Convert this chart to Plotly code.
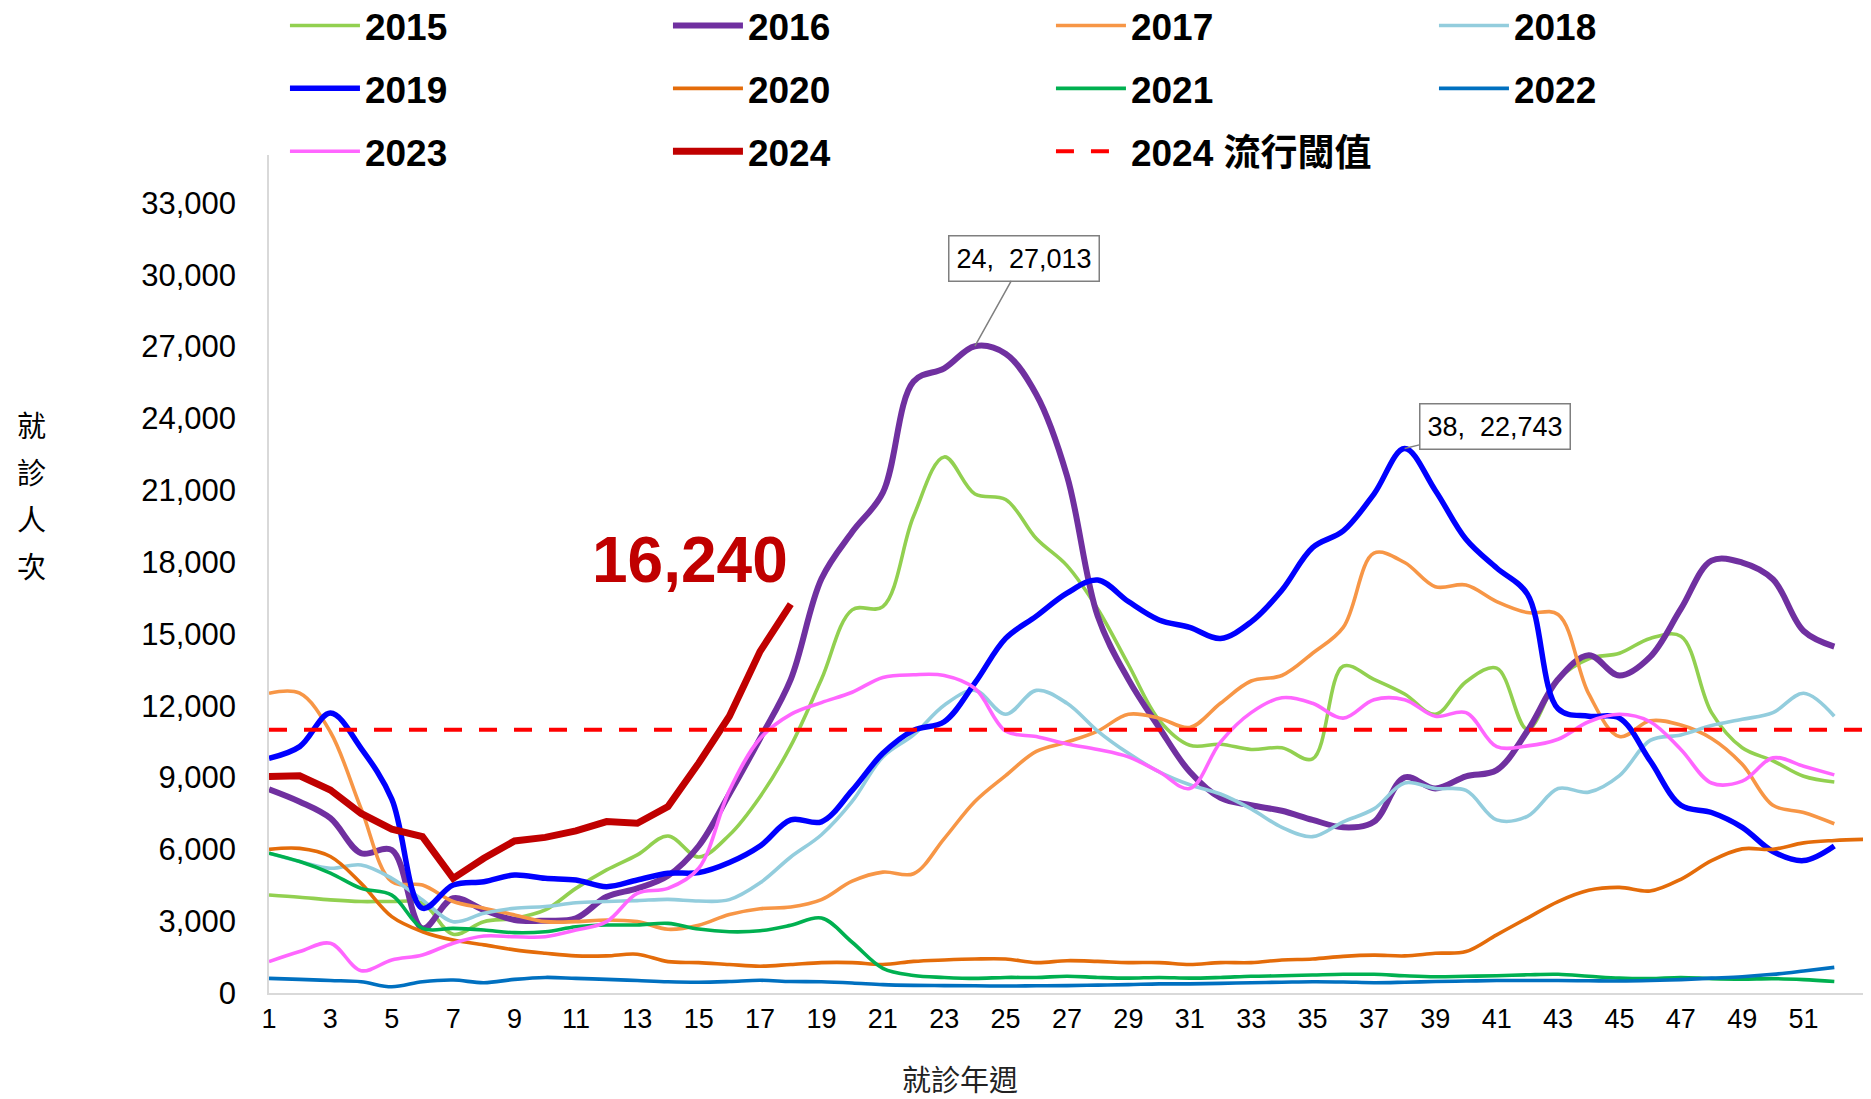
import plotly.graph_objects as go

# 週別就診人次
weeks = list(range(1, 53))
weeks_2020 = list(range(1, 54))
weeks_2024 = list(range(1, 19))

y2015 = [4090, 4000, 3890, 3820, 3820, 3750, 2450, 2980, 3120, 3470,
         4370, 5140, 5770, 6560, 5680, 6600, 8200, 10320, 13100, 16000,
         16140, 19910, 22390, 20840, 20610, 18980, 17850, 16040, 13720, 11400,
         10350, 10390, 10170, 10240, 9780, 13650, 13100, 12490, 11640, 13000,
         13570, 11010, 13100, 13960, 14190, 14810, 14900, 11710, 10240, 9700,
         9050, 8810]
y2016 = [8510, 7990, 7300, 5840, 5970, 2700, 3960, 3470, 3050, 3020,
         3120, 4020, 4370, 4900, 6140, 8310, 10630, 13100, 17300, 19250,
         20900, 25540, 26090, 27013, 26700, 25000, 21600, 15740, 13100, 11090,
         9240, 8150, 7840, 7610, 7230, 6920, 7150, 9010, 8540, 9050,
         9310, 10940, 13100, 14110, 13260, 14040, 16040, 18060, 17980, 17280,
         15120, 14470]
y2017 = [12520, 12520, 10900, 7700, 4650, 4510, 3820, 3540, 3260, 2980,
         2980, 3050, 2980, 2660, 2830, 3280, 3520, 3590, 3900, 4670,
         5050, 4980, 6450, 8000, 9080, 10090, 10480, 10940, 11640, 11480,
         11090, 12100, 13030, 13260, 14190, 15270, 18370, 17980, 16970, 17040,
         16350, 15890, 15810, 12490, 10710, 11370, 11190, 10630, 9550, 7840,
         7540, 7070]
y2018 = [5840, 5490, 5210, 5350, 4790, 3890, 2980, 3330, 3540, 3610,
         3770, 3820, 3860, 3910, 3840, 3900, 4600, 5680, 6610, 8000,
         9860, 10780, 12020, 12640, 11640, 12640, 12100, 10940, 10010, 9240,
         8700, 8310, 7690, 6920, 6530, 7150, 7690, 8770, 8540, 8460,
         7230, 7380, 8540, 8390, 9080, 10550, 10780, 11170, 11430, 11710,
         12520, 11560]
y2019 = [9800, 10290, 11690, 10220, 8100, 3540, 4510, 4650, 4930, 4790,
         4720, 4440, 4720, 5000, 5030, 5450, 6140, 7230, 7150, 8460,
         10010, 10970, 11330, 12950, 14810, 15740, 16700, 17250, 16350, 15580,
         15270, 14810, 15500, 16820, 18600, 19300, 20840, 22743, 20990, 18950,
         17750, 16660, 11870, 11560, 11480, 9700, 7840, 7540, 6920, 5910,
         5530, 6140]
y2020 = [6000, 6040, 5700, 4580, 3190, 2560, 2210, 2010, 1800, 1660,
         1550, 1550, 1620, 1310, 1270, 1190, 1120, 1190, 1270, 1270,
         1190, 1320, 1380, 1420, 1420, 1270, 1350, 1320, 1270, 1270,
         1190, 1270, 1270, 1380, 1420, 1530, 1580, 1550, 1660, 1730,
         2430, 3130, 3820, 4290, 4410, 4260, 4750, 5530, 6020, 6000,
         6270, 6370, 6420]
y2021 = [5840, 5490, 5010, 4370, 4090, 2700, 2700, 2630, 2520, 2560,
         2770, 2840, 2840, 2910, 2670, 2560, 2600, 2830, 3130, 2120,
         1030, 730, 650, 610, 650, 650, 700, 650, 620, 650,
         620, 650, 700, 720, 750, 780, 780, 720, 680, 700,
         720, 760, 780, 700, 620, 600, 650, 600, 580, 600,
         560, 480]
y2022 = [610, 570, 520, 470, 260, 470, 540, 430, 570, 650,
         610, 570, 520, 470, 450, 480, 530, 480, 470, 420,
         350, 320, 310, 300, 290, 300, 310, 330, 350, 380,
         380, 400, 430, 450, 470, 460, 430, 450, 480, 500,
         520, 520, 520, 510, 500, 520, 560, 620, 680, 780,
         920, 1070]
y2023 = [1310, 1730, 2080, 930, 1380, 1590, 2080, 2380, 2350, 2350,
         2630, 2980, 4160, 4370, 5210, 8460, 10630, 11640, 12130, 12560,
         13180, 13290, 13260, 12720, 10940, 10710, 10400, 10170, 9860, 9240,
         8540, 10480, 11710, 12330, 12100, 11480, 12250, 12250, 11560, 11710,
         10290, 10320, 10600, 11330, 11640, 11330, 10170, 8770, 8850, 9820,
         9470, 9110]
y2024 = [9040, 9070, 8480, 7500, 6840, 6530, 4790, 5630, 6350, 6500,
         6770, 7160, 7090, 7790, 9600, 11560, 14270, 16240]
threshold_2024 = 11000

x_ticks = list(range(1, 52, 2))
y_ticks = list(range(0, 33001, 3000))

FONT = "Liberation Sans, Arial, Noto Sans CJK TC, sans-serif"
CJK = "Noto Sans CJK TC"

fig = go.Figure()

series = [
    ("2015", weeks, y2015, "#92D050", 3.6, "legend"),
    ("2016", weeks, y2016, "#7030A0", 6.0, "legend"),
    ("2017", weeks, y2017, "#F79646", 3.6, "legend"),
    ("2018", weeks, y2018, "#93CDDD", 3.6, "legend"),
    ("2019", weeks, y2019, "#0000FF", 5.5, "legend2"),
    ("2020", weeks_2020, y2020, "#E46C0A", 3.6, "legend2"),
    ("2021", weeks, y2021, "#00B050", 3.6, "legend2"),
    ("2022", weeks, y2022, "#0070C0", 3.6, "legend2"),
    ("2023", weeks, y2023, "#FF66FF", 3.6, "legend3"),
]
for name, xs, ys, color, w, lg in series:
    fig.add_trace(go.Scatter(x=xs, y=ys, name=name, mode="lines", legend=lg,
                             line=dict(color=color, width=w, shape="spline", smoothing=1.0)))

fig.add_trace(go.Scatter(x=weeks_2024, y=y2024, name="2024", mode="lines", legend="legend3",
                         line=dict(color="#C00000", width=7)))

fig.add_trace(go.Scatter(x=weeks_2020, y=[threshold_2024] * len(weeks_2020), name="2024 流行閾值",
                         mode="lines", legend="legend3",
                         line=dict(color="#FF0000", width=4, dash="18px,17px")))

legend_style = dict(orientation="h", entrywidth=298, entrywidthmode="pixels", itemwidth=70,
                    font=dict(family=FONT, size=37, color="black", weight="bold"),
                    x=0.010, xanchor="left", yanchor="middle", bgcolor="rgba(0,0,0,0)",
                    traceorder="normal")

# the page body adds an 8px offset, so the figure is 8px smaller and margins shifted
fig.update_layout(
    width=1863, height=1091,
    margin=dict(l=261, r=6, t=147, b=106, autoexpand=False),
    paper_bgcolor="white", plot_bgcolor="white",
    font=dict(family=FONT, color="black"),
    legend=dict(legend_style, y=1.154),
    legend2=dict(legend_style, y=1.079),
    legend3=dict(legend_style, y=1.004),
    xaxis=dict(range=[1, 53], tickvals=x_ticks, showgrid=False, zeroline=False,
               showline=True, linecolor="#D9D9D9", linewidth=1.5,
               tickfont=dict(size=27, color="black"), ticklabelstandoff=1),
    yaxis=dict(range=[0, 35000], tickvals=y_ticks, tickformat=",", showgrid=False, zeroline=False,
               showline=True, linecolor="#D9D9D9", linewidth=1.5,
               tickfont=dict(size=31, color="black"), ticklabelstandoff=25),
)

# 軸標題
for i, ch in enumerate("就診人次"):
    fig.add_annotation(text=ch, xref="paper", yref="paper", x=-0.149, y=(985 - (416 + 47 * i)) / 838,
                       xanchor="center", yanchor="middle", showarrow=False,
                       font=dict(family=CJK, size=29, color="black"))
fig.add_annotation(text="就診年週", xref="paper", yref="paper", x=0.433, y=-0.1015,
                   xanchor="center", yanchor="middle", showarrow=False, borderpad=0,
                   font=dict(family=CJK, size=29, color="#222222"))

# 標註
fig.add_annotation(text="<b>16,240</b>", x=14.72, y=18100, showarrow=False,
                   font=dict(family=FONT, size=64, color="#C00000"))
fig.add_annotation(text="24,\u00a0\u00a027,013", x=24, y=27013, ax=49, ay=-88, showarrow=True, arrowhead=0,
                   arrowwidth=1.5, arrowcolor="#7F7F7F", bgcolor="white", bordercolor="#7F7F7F",
                   borderwidth=1.5, borderpad=7, font=dict(family=FONT, size=27, color="black"))
fig.add_annotation(text="38,\u00a0\u00a022,743", x=38, y=22743, ax=90, ay=-22, showarrow=True, arrowhead=0,
                   arrowwidth=1.5, arrowcolor="#7F7F7F", bgcolor="white", bordercolor="#7F7F7F",
                   borderwidth=1.5, borderpad=7, font=dict(family=FONT, size=27, color="black"))

fig.write_html("out.html")
